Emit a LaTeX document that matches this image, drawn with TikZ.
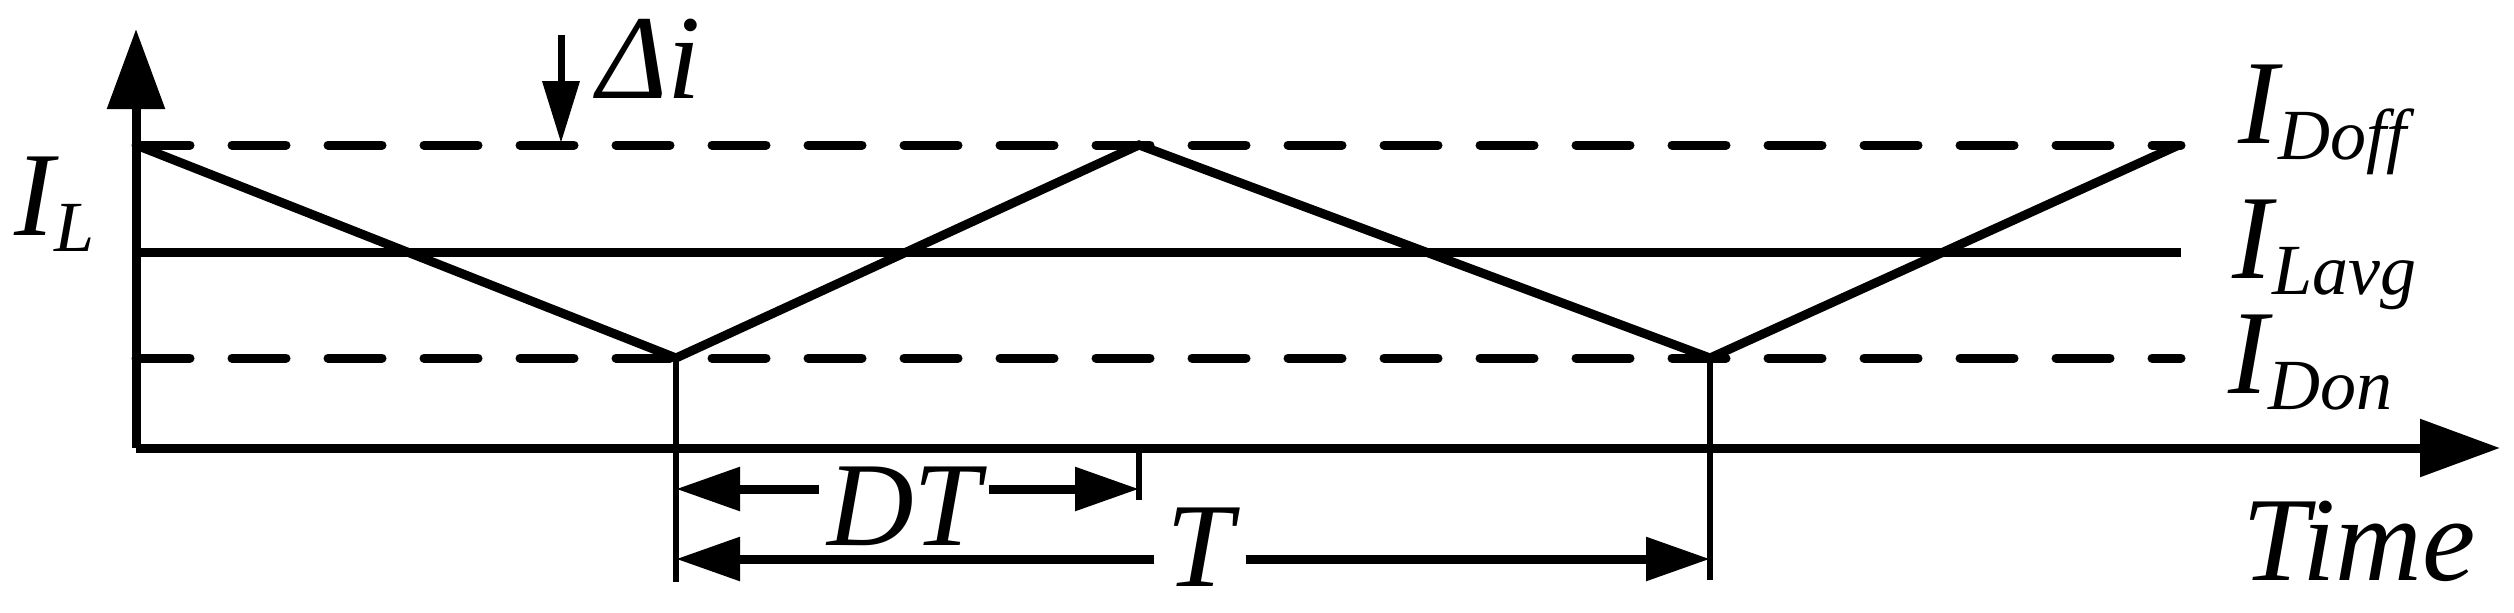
\documentclass[tikz,border=0pt]{standalone}
\usepackage{fontspec}
\setmainfont{Liberation Serif}
\usetikzlibrary{arrows.meta}
\newcommand{\bigtxt}{\fontsize{120}{140}\selectfont\itshape}
\newcommand{\subtxt}{\fontsize{72}{80}\selectfont\itshape}
\newcommand{\lbl}[2]{{\bigtxt #1}\raisebox{-16pt}{\subtxt #2}}
\begin{document}
\begin{tikzpicture}[x=1pt,y=-1pt,
  wave/.style={line width=9pt,line join=miter},
  dsh/.style={line width=9pt,line cap=round,dash pattern=on 54pt off 42pt},
  thin/.style={line width=6pt},
  bigtip/.style={-{Triangle[length=80pt,width=56pt]}},
  smalltip/.style={-{Triangle[length=64pt,width=42pt]}},
  txt/.style={inner sep=0pt,anchor=base west}]
\useasboundingbox (0,0) rectangle (2514,613);
\coordinate (O) at (136,448);
\coordinate (Ytop) at (136,29);
\coordinate (Xend) at (2500,448);
\coordinate (Hl) at (136,145); \coordinate (Hr) at (2181,145);
\coordinate (Al) at (136,252); \coordinate (Ar) at (2181,252);
\coordinate (Ll) at (136,358); \coordinate (Lr) at (2181,358);
\coordinate (P0) at (136,145);
\coordinate (V1) at (676,358);
\coordinate (P1) at (1139,145);
\coordinate (V2) at (1710,358);
\coordinate (P2) at (2179,145);
\coordinate (V1b) at (676,582);
\coordinate (V2b) at (1710,580);
\coordinate (Tk) at (1139,448); \coordinate (Tkb) at (1139,500);
\coordinate (DTl) at (676,489); \coordinate (DTr) at (1139,489);
\coordinate (Tl) at (676,559); \coordinate (Tr) at (1710,559);
\coordinate (Dtop) at (561,35); \coordinate (Dbot) at (561,143);
% axes
\draw[wave,bigtip] (O) -- (Ytop);
\draw[wave,bigtip] (O) -- (Xend);
% levels
\draw[dsh] (Hl) -- (Hr);
\draw[wave] (Al) -- (Ar);
\draw[dsh] (Ll) -- (Lr);
% waveform
\draw[wave] (P0) -- (V1) -- (P1) -- (V2) -- (P2);
% verticals
\draw[thin] (V1) -- (V1b);
\draw[thin] (V2) -- (V2b);
\draw[thin] (Tk) -- (Tkb);
% delta i
\draw[line width=7pt,-{Triangle[length=62pt,width=36pt]}] (Dtop) -- (Dbot);
\node[txt] (di) at (597,98) {\bigtxt Δi};
% DT
\node[inner sep=0pt,anchor=base] (DT) at (904,545) {\bigtxt DT};
\draw[wave,smalltip] (DT.west |- DTl) ++(-8,0) -- (DTl);
\draw[wave,smalltip] (DT.east |- DTr) ++(8,0) -- (DTr);
% T
\node[inner sep=0pt,anchor=base] (T) at (1200,586) {\bigtxt T};
\draw[wave,smalltip] (T.west |- Tl) ++(-12,0) -- (Tl);
\draw[wave,smalltip] (T.east |- Tr) ++(12,0) -- (Tr);
% labels
\node[txt] (IL) at (14,235) {\lbl{I}{L}};
\node[txt] (Ioff) at (2238,143) {\lbl{I}{Doff}};
\node[txt] (Iavg) at (2232,278) {\lbl{I}{Lavg}};
\node[txt] (Ion) at (2228,393) {\lbl{I}{Don}};
\node[txt] (time) at (2242,580) {\bigtxt Time};
\end{tikzpicture}
\end{document}
